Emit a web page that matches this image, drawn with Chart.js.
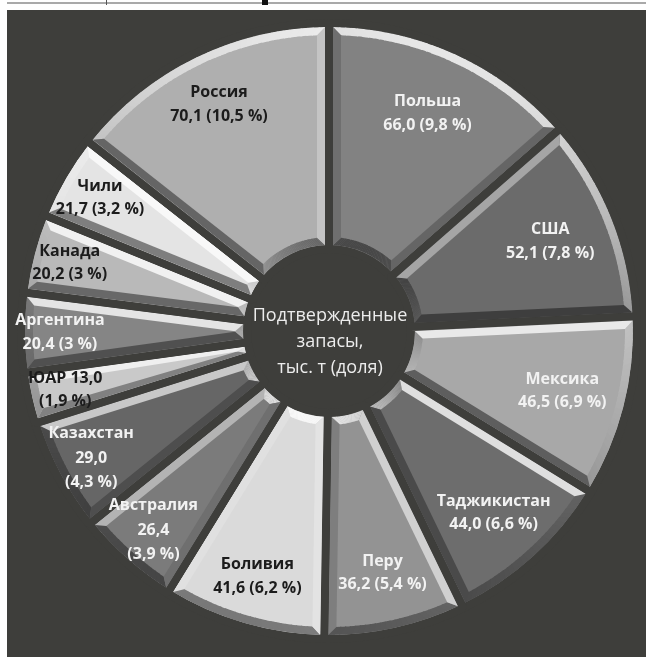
<!DOCTYPE html>
<html>
<head>
<meta charset="utf-8">
<script src="https://cdn.jsdelivr.net/npm/chart.js@4.4.1/dist/chart.umd.min.js"></script>
<style>
  html, body { margin: 0; padding: 0; background: #ffffff; width: 646px; height: 657px; overflow: hidden; }
  #rule  { position: absolute; left: 7px; top: 2px; width: 639px; height: 2px; background: #a9a9a9; }
  #tick  { position: absolute; left: 106px; top: 0; width: 1px; height: 5px; background: #555; }
  #mark  { position: absolute; left: 262px; top: 0; width: 6px; height: 5px; background: #111; }
  #panel { position: absolute; left: 7px; top: 10px; width: 639px; height: 647px; background: #3e3e3b; }
  #wrap  { position: absolute; left: 0; top: 0; width: 646px; height: 657px; }
</style>
</head>
<body>
<div id="rule"></div><div id="tick"></div><div id="mark"></div>
<div id="panel"></div>
<div id="wrap"><canvas id="c" width="646" height="657"></canvas></div>
<script>
// Proven silver reserves by country, thousand tonnes, and world share, %
const countries = ['Польша', 'США', 'Мексика', 'Таджикистан', 'Перу', 'Боливия', 'Австралия',
                   'Казахстан', 'ЮАР', 'Аргентина', 'Канада', 'Чили', 'Россия'];
const reserves  = [66.0, 52.1, 46.5, 44.0, 36.2, 41.6, 26.4, 29.0, 13.0, 20.4, 20.2, 21.7, 70.1];
const shares    = [9.8, 7.8, 6.9, 6.6, 5.4, 6.2, 3.9, 4.3, 1.9, 3, 3, 3.2, 10.5];
// how each label is broken into lines
const labelForms = ['two', 'two', 'two', 'two', 'two', 'two', 'three',
                    'three', 'inline', 'two', 'two', 'two', 'two'];
const centerLines = ['Подтвержденные', 'запасы,', 'тыс. т (доля)'];

const sliceColors = ['#828282', '#6b6b6b', '#a8a8a8', '#6d6d6d', '#939393', '#dadada', '#7b7b7b',
                     '#666666', '#c9c9c9', '#858585', '#b9b9b9', '#e4e4e4', '#afafaf'];
const labelColors = ['#f2f2f2', '#f2f2f2', '#f2f2f2', '#f2f2f2', '#f2f2f2', '#1c1c1c', '#f2f2f2',
                     '#f2f2f2', '#1c1c1c', '#f2f2f2', '#1c1c1c', '#1c1c1c', '#1c1c1c'];
const BG = '#3e3e3b';

const fmtValue = v => v.toFixed(1).replace('.', ',');
const fmtShare = v => String(v).replace('.', ',') + ' %';

function labelLines(i) {
  const name = countries[i], val = fmtValue(reserves[i]), sh = '(' + fmtShare(shares[i]) + ')';
  if (labelForms[i] === 'three') return [name, val, sh];
  if (labelForms[i] === 'inline') return [name + ' ' + val, sh];
  return [name, val + ' ' + sh];
}

function hexToRgb(h) {
  const n = parseInt(h.slice(1), 16);
  return [(n >> 16) & 255, (n >> 8) & 255, n & 255];
}
const LIGHT = (() => { const lx = 0.35, ly = -1, m = Math.hypot(lx, ly); return [lx / m, ly / m]; })();
function shade(base, nx, ny) {
  const dot = nx * LIGHT[0] + ny * LIGHT[1];
  const f = dot >= 0 ? dot * 0.8 : dot * 0.45;
  return 'rgb(' + base.map(c => Math.round(f >= 0 ? c + (255 - c) * f : c * (1 + f))).join(',') + ')';
}

// Beveled rim drawn inside each ring segment
function drawBevel(ctx, p, d, b, hex) {
  const base = hexToRgb(hex);
  const { x, y } = p, a0 = p.startAngle, a1 = p.endAngle;
  const R = p.outerRadius - d, r = p.innerRadius + d;
  const R2 = R - b, r2 = r + b, d2 = d + b;
  const aS = (rad, off) => a0 + Math.asin(Math.min(1, off / rad));
  const aE = (rad, off) => a1 - Math.asin(Math.min(1, off / rad));
  const oS = aS(R, d), oE = aE(R, d), iS = aS(r, d), iE = aE(r, d);
  let o2S = aS(R2, d2), o2E = aE(R2, d2), i2S = aS(r2, d2), i2E = aE(r2, d2);
  if (iS >= iE || oS >= oE) return;
  const mid = (a0 + a1) / 2;
  if (i2S > i2E) { i2S = i2E = mid; }
  if (o2S > o2E) { o2S = o2E = mid; }
  const pt = (rad, a) => [x + rad * Math.cos(a), y + rad * Math.sin(a)];

  ctx.save();
  ctx.beginPath();
  ctx.arc(x, y, R, oS, oE);
  ctx.arc(x, y, r, iE, iS, true);
  ctx.closePath();
  ctx.clip();

  const eps = 0.004;
  const rim = (Ra, Rb, sa, ea, sb, eb, sign) => {
    const n = Math.max(2, Math.ceil((ea - sa) / 0.02));
    for (let k = 0; k < n; k++) {
      const t0 = k / n, t1 = (k + 1) / n;
      const a0a = sa + (ea - sa) * t0, a1a = sa + (ea - sa) * t1 + eps;
      const a0b = sb + (eb - sb) * t0, a1b = sb + (eb - sb) * t1 + eps;
      const m = (a0a + a1a) / 2;
      ctx.beginPath();
      ctx.arc(x, y, Ra, a0a, a1a);
      ctx.arc(x, y, Rb, a1b, a0b, true);
      ctx.closePath();
      ctx.fillStyle = shade(base, sign * Math.cos(m), sign * Math.sin(m));
      ctx.fill();
    }
  };
  rim(R, R2, oS, oE, o2S, o2E, 1);
  rim(r, r2, iS, iE, i2S, i2E, -1);

  const quad = (pts, nx, ny) => {
    ctx.beginPath();
    ctx.moveTo(pts[0][0], pts[0][1]);
    for (let k = 1; k < pts.length; k++) ctx.lineTo(pts[k][0], pts[k][1]);
    ctx.closePath();
    ctx.fillStyle = shade(base, nx, ny);
    ctx.fill();
  };
  quad([pt(R, oS), pt(r, iS), pt(r2, i2S), pt(R2, o2S)], Math.sin(a0), -Math.cos(a0));
  quad([pt(R, oE), pt(r, iE), pt(r2, i2E), pt(R2, o2E)], -Math.sin(a1), Math.cos(a1));
  ctx.restore();
}

const bevelAndLabels = {
  id: 'bevelAndLabels',
  afterDatasetsDraw(chart) {
    const ctx = chart.ctx;
    const meta = chart.getDatasetMeta(0);
    const half = chart.data.datasets[0].borderWidth / 2;
    let cx = 0, cy = 0;
    meta.data.forEach((arc, i) => {
      const p = arc.getProps(['x', 'y', 'startAngle', 'endAngle', 'innerRadius', 'outerRadius'], true);
      cx = p.x; cy = p.y;
      drawBevel(ctx, p, half, 8, sliceColors[i]);
    });

    // slice labels
    ctx.save();
    ctx.textAlign = 'center';
    ctx.textBaseline = 'middle';
    ctx.font = 'bold 16px "Open Sans", "DejaVu Sans", sans-serif';
    meta.data.forEach((arc, i) => {
      const p = arc.getProps(['x', 'y', 'startAngle', 'endAngle', 'outerRadius'], true);
      const m = (p.startAngle + p.endAngle) / 2;
      const ux = Math.cos(m), uy = Math.sin(m);
      const frac = 0.785 + 0.1 * Math.max(0, -ux) + 0.03 * Math.max(0, uy);
      const rr = (p.outerRadius - half) * frac;
      const lx = p.x + ux * rr, ly = p.y + uy * rr;
      const lines = labelLines(i);
      const lh = lines.length > 2 ? 24.5 : 23.5;
      ctx.fillStyle = labelColors[i];
      lines.forEach((t, k) => ctx.fillText(t, lx, ly + (k - (lines.length - 1) / 2) * lh));
    });

    // caption in the hole
    ctx.font = '18px "Open Sans", "DejaVu Sans", sans-serif';
    ctx.fillStyle = '#ececec';
    centerLines.forEach((t, k) => ctx.fillText(t, cx + 1, cy + 11 + (k - 1) * 26));
    ctx.restore();
  }
};

new Chart(document.getElementById('c'), {
  type: 'doughnut',
  data: {
    labels: countries,
    datasets: [{
      data: reserves,
      backgroundColor: sliceColors,
      borderColor: BG,
      borderWidth: 8,
      radius: 308,
      cutout: '26.6%'
    }]
  },
  options: {
    responsive: false,
    animation: false,
    events: [],
    layout: { padding: { left: 12, right: 0, top: 5, bottom: 0 } },
    plugins: { legend: { display: false }, tooltip: { enabled: false } }
  },
  plugins: [bevelAndLabels]
});
</script>
</body>
</html>
